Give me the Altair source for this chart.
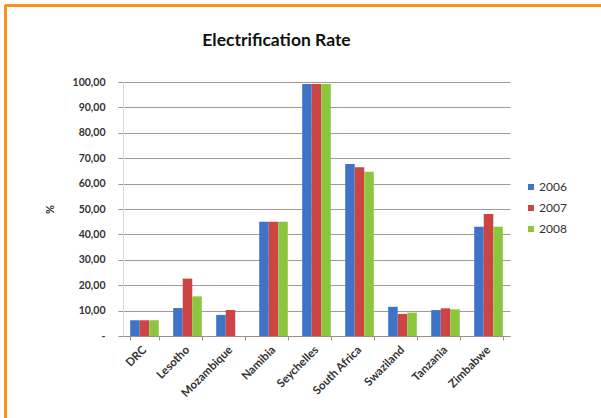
import altair as alt
import pandas as pd

countries = ["DRC", "Lesotho", "Mozambique", "Namibia", "Seychelles",
             "South Africa", "Swaziland", "Tanzania", "Zimbabwe"]
years = ["2006", "2007", "2008"]
rate_2006 = [6.2, 11.0, 8.3, 45.0, 99.2, 67.7, 11.5, 10.2, 43.0]
rate_2007 = [6.2, 22.6, 10.2, 45.0, 99.2, 66.4, 8.7, 10.9, 48.0]
rate_2008 = [6.2, 15.6, None, 45.0, 99.2, 64.7, 9.2, 10.5, 43.0]
colors = ["#3F73C8", "#CC4444", "#8CC63F"]

rows = []
for year, series in zip(years, [rate_2006, rate_2007, rate_2008]):
    for country, value in zip(countries, series):
        if value is not None:
            rows.append({"country": country, "year": year, "rate": value})
df = pd.DataFrame(rows)

W, H = 387, 254
LEFT, TOP = 123, 82

bars = alt.Chart(df).mark_bar().encode(
    x=alt.X("country:N", sort=countries,
            scale=alt.Scale(paddingInner=0.335, paddingOuter=0.167),
            axis=alt.Axis(title=None, labelAngle=-45, labelAlign="right",
                          labelBaseline="middle", labelPadding=8,
                          labelFont="Lato", labelFontWeight="bold",
                          labelFontSize=11.5, labelColor="#333333",
                          tickBand="extent", tickSize=4, tickColor="#A08E80",
                          domainColor="#A08E80", grid=False)),
    xOffset=alt.XOffset("year:N", sort=years,
                        scale=alt.Scale(paddingInner=0, paddingOuter=0)),
    y=alt.Y("rate:Q",
            scale=alt.Scale(domain=[0, 100], nice=False),
            axis=alt.Axis(title="%", titleAngle=-90, titleX=-68, titleY=H / 2,
                          titleFont="Lato", titleFontWeight="bold",
                          titleFontSize=11, titleColor="#333333",
                          values=list(range(0, 101, 10)),
                          labelExpr="datum.value == 0 ? '-\u00a0\u00a0\u00a0\u00a0' : replace(format(datum.value, '.2f'), '.', ',')",
                          labelFont="Lato", labelFontWeight="bold",
                          labelFontSize=10.5, labelColor="#333333",
                          labelPadding=13, tickSize=5, tickColor="#A08E80",
                          domainColor="#D8D8D8",
                          grid=True, gridColor="#A8998E", gridWidth=1)),
    color=alt.Color("year:N", sort=years,
                    scale=alt.Scale(domain=years, range=colors),
                    legend=alt.Legend(title=None, orient="none",
                                      legendX=402, legendY=99,
                                      symbolType="square", symbolSize=36,
                                      symbolStrokeWidth=0, labelOffset=2,
                                      labelFont="Lato", labelFontSize=12,
                                      labelColor="#333333", rowPadding=9)),
)

# orange frame along the top and left edges
frame_top = alt.Chart(df).mark_rule(color="#F7941D", strokeWidth=3).encode(
    x=alt.value(5 - LEFT), x2=alt.value(601 - LEFT), y=alt.value(5.5 - TOP))
frame_left = alt.Chart(df).mark_rule(color="#F7941D", strokeWidth=3).encode(
    x=alt.value(5.5 - LEFT), y=alt.value(5 - TOP), y2=alt.value(418 - TOP))

chart = alt.layer(bars, frame_top, frame_left).properties(
    width=W, height=H,
    autosize=alt.AutoSizeParams(type="none"),
    padding={"left": LEFT, "top": TOP, "right": 601 - LEFT - W, "bottom": 418 - TOP - H},
    background="white",
    title=alt.TitleParams("Electrification Rate", font="Lato", fontSize=17.5,
                          fontWeight="bold", color="#111111",
                          anchor="middle", frame="group", dx=-40, offset=0,
                          dy=46),
).configure_view(stroke=None)

chart.save("out.html", embed_options={"renderer": "svg", "actions": False})
